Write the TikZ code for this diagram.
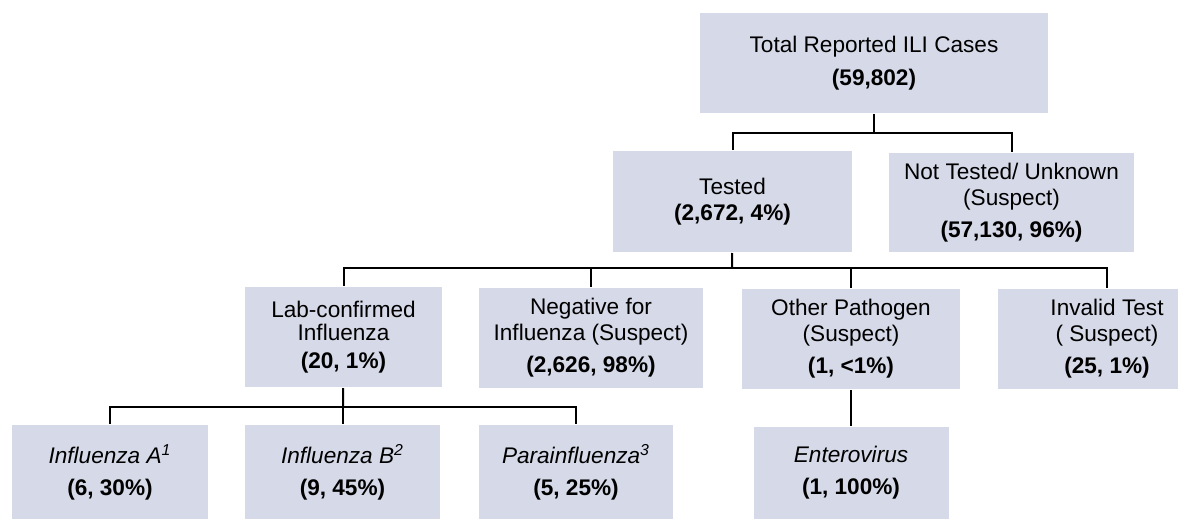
\documentclass[tikz,border=0pt]{standalone}
\usepackage{fontspec}
\setmainfont{Liberation Sans}
\usepackage{tikz}
\definecolor{boxgray}{RGB}{214,217,231}

\begin{document}
\begin{tikzpicture}[
                x = 0.5pt, y = -0.5pt, % one unit = one pixel of the scan
                line width = 1pt, % connector style
                box/.style = {fill = boxgray, align = center, inner sep = 0pt,
                font = \fontsize{11.3}{13}\selectfont}
            ]

            \useasboundingbox (0,0) rectangle (1203,519);

            \node (total) [box, minimum width=174pt, minimum height=50pt] at (874,63)
            {Total Reported ILI Cases\\[3.5pt]\textbf{(59,802)}};

            \node (tested) [box, minimum width=119.5pt, minimum height=50.5pt] at (732.5,201.5)
            {Tested\\\textbf{(2,672, 4\%)}}; \node (nottested) [box, minimum
            width=122.5pt, minimum height=49.5pt] at (1011.5,202.5) {Not Tested/
            Unknown\\(Suspect)\\[3pt]\textbf{(57,130, 96\%)}};

            \node (lab) [box, minimum width=98.5pt, minimum height=50pt] at (343.5,337)
            {Lab-confirmed\\[-1.5pt]Influenza\\[1pt]\textbf{(20, 1\%)}}; \node (neg)
            [box, minimum width=112pt, minimum height=50pt] at (591,338) {Negative
            for\\Influenza (Suspect)\\[3pt]\textbf{(2,626, 98\%)}}; \node (other)
            [box, minimum width=109pt, minimum height=50pt] at (851,339) {Other
            Pathogen\\(Suspect)\\[3pt]\textbf{(1, <1\%)}}; \node (inv) [box, minimum
            width=90pt, minimum height=50pt] at (1088,339) {\hspace*{19pt}Invalid
            Test\\\hspace*{19pt}( Suspect)\\[3pt]\hspace*{19pt}\textbf{(25, 1\%)}};

            \node (infa) [box, minimum width=98pt, minimum height=47pt] at (110,472)
            {\textit{Influenza A\textsuperscript{1}}\\[3pt]\textbf{(6, 30\%)}}; \node
            (infb) [box, minimum width=97.5pt, minimum height=47pt] at (342.5,472)
            {\textit{Influenza B\textsuperscript{2}}\\[3pt]\textbf{(9, 45\%)}}; \node
            (para) [box, minimum width=97pt, minimum height=47pt] at (576,472)
            {\textit{Parainfluenza\textsuperscript{3}}\\[3pt]\textbf{(5, 25\%)}};
            \node (entero) [box, minimum width=97.5pt, minimum height=46pt] at
            (851,473) {\textit{Enterovirus}\\[3pt]\textbf{(1, 100\%)}};

            % branching points of the tree
            \coordinate (j1) at (874,133); \coordinate (j2) at (732,268);
            \coordinate (j3) at (343,407);

            \draw (total) -- (j1); \draw (tested.north) |- (j1) -| (nottested.north);
            \draw (tested) -- (j2); \draw (lab.north) |- (j2) -| ([xshift=9.5pt]inv.north);
            \draw (neg.north) -- (neg.north |- j2); \draw (other.north) -- (other.north |- j2);
            \draw (lab) -- (j3); \draw (infa.north) |- (j3) -| (para.north);
            \draw (infb.north) -- (infb.north |- j3); \draw (other) -- (entero);

        \end{tikzpicture}
\end{document}
